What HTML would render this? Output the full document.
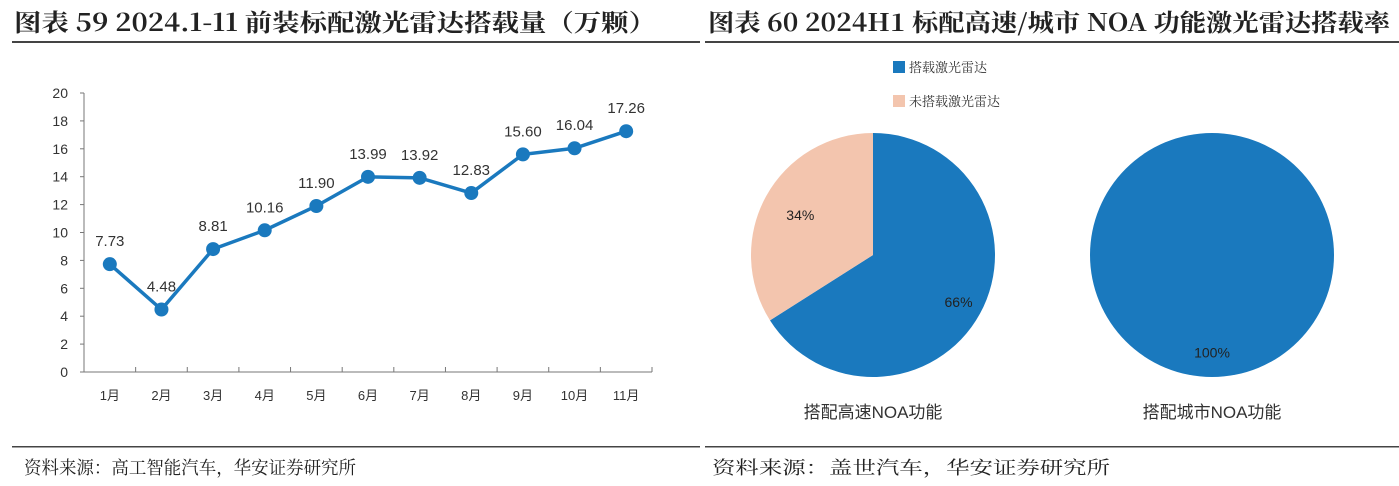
<!DOCTYPE html>
<html><head><meta charset="utf-8">
<style>
body{margin:0;width:1399px;height:486px;background:#fff;overflow:hidden;font-family:"Liberation Sans","Noto Sans CJK SC",sans-serif}
svg{position:absolute;left:0;top:0}
</style></head><body>
<svg width="1399" height="486">
<g>
<text x="14" y="31" font-size="24" textLength="642" lengthAdjust="spacingAndGlyphs" font-family="'Noto Serif CJK SC','Liberation Serif',serif" font-weight="bold" fill="#222">图表 59 2024.1-11 前装标配激光雷达搭载量（万颗）</text>
<rect x="12" y="41" width="688" height="2" fill="#444"/>
</g>
<g>
<text x="708" y="31" font-size="24" textLength="682" lengthAdjust="spacingAndGlyphs" font-family="'Noto Serif CJK SC','Liberation Serif',serif" font-weight="bold" fill="#222">图表 60 2024H1 标配高速/城市 NOA 功能激光雷达搭载率</text>
<rect x="705" y="41" width="694" height="2" fill="#444"/>
</g>
<rect x="12" y="446" width="688" height="1.5" fill="#444"/>
<rect x="705" y="446" width="694" height="1.5" fill="#444"/>
<text x="24" y="474" font-size="18" textLength="332" lengthAdjust="spacingAndGlyphs" font-family="'Noto Serif CJK SC',serif" fill="#222">资料来源：高工智能汽车，华安证券研究所</text>
<text x="712" y="474" font-size="18" textLength="398" lengthAdjust="spacingAndGlyphs" font-family="'Noto Serif CJK SC',serif" fill="#222">资料来源：盖世汽车，华安证券研究所</text>
<g id="line"></g>
<g id="pies"></g>
</svg>
<script>
const months=["1月","2月","3月","4月","5月","6月","7月","8月","9月","10月","11月"];
const values=[7.73,4.48,8.81,10.16,11.90,13.99,13.92,12.83,15.60,16.04,17.26];
const yTicks=[0,2,4,6,8,10,12,14,16,18,20];
const pieLabels=["搭配高速NOA功能","搭配城市NOA功能"];
const pieWithLidar=[66,100];
const legendNames=["搭载激光雷达","未搭载激光雷达"];
const NS="http://www.w3.org/2000/svg";
function mk(p,t,a){const e=document.createElementNS(NS,t);for(const k in a)e.setAttribute(k,a[k]);p.appendChild(e);return e;}
const BLUE="#1a79be",PINK="#f3c5ae";
const g=document.getElementById('line');
const x0=84,x1=652,yb=372,yt=93;
const xs=i=>x0+(x1-x0)/11*(i+0.5);
const ys=v=>yb-(v/20)*(yb-yt);
let e=mk(g,'line',{x1:x0,y1:yt,x2:x0,y2:yb,stroke:'#777','stroke-width':1});

e=mk(g,'line',{x1:x0,y1:yb,x2:x1,y2:yb,stroke:'#777','stroke-width':1});

yTicks.forEach(t=>{
 let l=mk(g,'line',{x1:x0-4,y1:ys(t),x2:x0,y2:ys(t),stroke:'#777'});
 
 let tx=mk(g,'text',{x:x0-16,y:ys(t)+5,'font-size':14,'text-anchor':'end',fill:'#333'});tx.textContent=t;
 
});
for(let i=0;i<=11;i++){let l=mk(g,'line',{x1:x0+(x1-x0)/11*i,y1:yb,x2:x0+(x1-x0)/11*i,y2:yb-5,stroke:'#777'});
 }
months.forEach((m,i)=>{let tx=mk(g,'text',{x:xs(i),y:400,'font-size':13,'text-anchor':'middle',fill:'#333'});tx.textContent=m;
 });
let p=mk(g,'polyline',{points:values.map((v,i)=>xs(i)+','+ys(v)).join(' '),fill:'none',stroke:BLUE,'stroke-width':3.5});

values.forEach((v,i)=>{
 let c=mk(g,'circle',{cx:xs(i),cy:ys(v),r:7,fill:BLUE});
 
 let tx=mk(g,'text',{x:xs(i),y:ys(v)-18,'font-size':15,'text-anchor':'middle',fill:'#333'});tx.textContent=v.toFixed(2);
 
});
const pg=document.getElementById('pies');
[[893,67,BLUE],[893,101,PINK]].forEach((a,i)=>{
 let r=mk(pg,'rect',{x:a[0],y:a[1]-6,width:12,height:12,fill:a[2]});
 
 let t=mk(pg,'text',{x:a[0]+16,y:a[1]+5,'font-size':13,fill:'#333','font-family':"'Noto Serif CJK SC',serif"});t.textContent=legendNames[i];
 
});
const centers=[873,1212],cy=255,R=122;
pieWithLidar.forEach((pct,k)=>{
 const cx=centers[k];
 if(pct>=100){let c=mk(pg,'circle',{cx:cx,cy:cy,r:R,fill:BLUE});}
 else{
  const a=pct/100*2*Math.PI;
  const ex=cx+R*Math.sin(a),ey=cy-R*Math.cos(a);
  let s1=mk(pg,'path',{d:`M${cx},${cy} L${cx},${cy-R} A${R},${R} 0 ${pct>50?1:0} 1 ${ex},${ey} Z`,fill:BLUE});
  
  let s2=mk(pg,'path',{d:`M${cx},${cy} L${ex},${ey} A${R},${R} 0 ${pct<50?1:0} 1 ${cx},${cy-R} Z`,fill:PINK});
  
  const m2=(a+2*Math.PI)/2;
  let t2=mk(pg,'text',{x:cx+R*0.68*Math.sin(m2),y:cy-R*0.68*Math.cos(m2)+5,'font-size':14,'text-anchor':'middle',fill:'#222'});t2.textContent=(100-pct)+'%';
  
 }
 const m=pct/100*Math.PI;
 let t=mk(pg,'text',{x:cx+R*0.8*Math.sin(m),y:cy-R*0.8*Math.cos(m)+5,'font-size':14,'text-anchor':'middle',fill:'#222'});t.textContent=pct+'%';
 
 let lb=mk(pg,'text',{x:cx,y:418,'font-size':17,'text-anchor':'middle',fill:'#333'});lb.textContent=pieLabels[k];
 
});
</script>
</body></html>
